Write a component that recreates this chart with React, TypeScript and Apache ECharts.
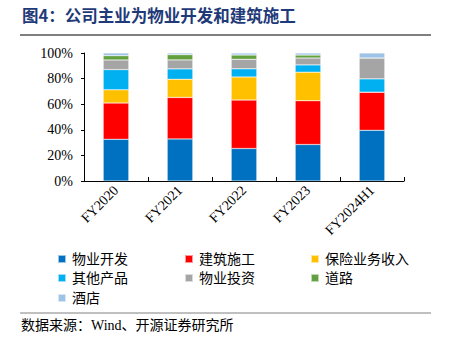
import React, { useEffect, useRef } from "react";
import * as echarts from "echarts";

const categories = ["FY2020", "FY2021", "FY2022", "FY2023", "FY2024H1"];
const seriesNames = ["物业开发", "建筑施工", "保险业务收入", "其他产品", "物业投资", "道路", "酒店"];
const propertyDev = [32.6, 32.9, 25.4, 28.5, 39.6];
const construction = [28.3, 32.4, 37.8, 34.2, 29.8];
const insurance = [10.3, 14.2, 18.1, 22.3, 0];
const otherProducts = [15.8, 8.1, 6.3, 5.7, 10.4];
const propertyInvest = [7.6, 7.0, 7.5, 5.4, 16.3];
const roads = [3.3, 4.1, 3.3, 2.3, 0];
const hotels = [2.1, 1.3, 1.6, 1.6, 3.9];
const yTicks = [0, 20, 40, 60, 80, 100];

const allData = [propertyDev, construction, insurance, otherProducts, propertyInvest, roads, hotels];
const colors = ["#0070C0", "#FF0000", "#FFC000", "#00B0F0", "#A5A5A5", "#63A03F", "#9DC3E6"];

const legendPos = [
  [57, 252], [184, 252], [310, 252],
  [57, 271], [184, 271], [310, 271],
  [57, 291],
];

export default function App() {
  const ref = useRef<HTMLDivElement>(null);
  useEffect(() => {
    const chart = echarts.init(ref.current!, undefined, { renderer: "svg" });
    const serif = "'Liberation Serif', 'Times New Roman', serif";
    const cjk = "'Liberation Serif', 'Noto Sans CJK SC', serif";
    chart.setOption({
      animation: false,
      backgroundColor: "#ffffff",
      grid: { left: 84, right: 45, top: 53, bottom: 170, containLabel: false },
      xAxis: {
        type: "category",
        data: categories,
        axisLine: { lineStyle: { color: "#000", width: 1 } },
        axisTick: { show: true, inside: true, length: 4, lineStyle: { color: "#000" } },
        axisLabel: { rotate: 45, fontFamily: serif, fontSize: 14, color: "#000", margin: 7 },
      },
      yAxis: {
        type: "value",
        min: yTicks[0],
        max: yTicks[yTicks.length - 1],
        interval: 20,
        splitLine: { show: false },
        axisLine: { show: true, lineStyle: { color: "#000", width: 1 } },
        axisTick: { show: true, length: 3, lineStyle: { color: "#000" } },
        axisLabel: { formatter: "{value}%", fontFamily: serif, fontSize: 14, color: "#000", margin: 11 },
      },
      legend: seriesNames.map((n, i) => ({
        data: [n],
        left: legendPos[i][0],
        top: legendPos[i][1],
        icon: "rect",
        itemWidth: 8,
        itemHeight: 8,
        itemGap: 0,
        padding: 0,
        selectedMode: false,
        textStyle: { fontFamily: cjk, fontSize: 14, color: "#000", padding: [0, 0, 0, 1] },
      })),
      graphic: [
        {
          type: "text",
          left: 22,
          top: 7,
          style: { text: "图4：公司主业为物业开发和建筑施工", fontFamily: "'Noto Sans CJK SC', sans-serif", fontWeight: "bold", fontSize: 16.5, fill: "#1F3A78" },
        },
        { type: "line", shape: { x1: 20, y1: 35, x2: 431, y2: 35 }, style: { stroke: "#000", lineWidth: 1 } },
        { type: "line", shape: { x1: 20, y1: 313, x2: 431, y2: 313 }, style: { stroke: "#808080", lineWidth: 1 } },
        {
          type: "text",
          left: 21,
          top: 318,
          style: { text: "数据来源：Wind、开源证券研究所", fontFamily: cjk, fontSize: 14, fill: "#000" },
        },
      ],
      series: seriesNames.map((n, i) => ({
        name: n,
        type: "bar",
        stack: "total",
        barWidth: "40%",
        data: allData[i],
        itemStyle: { color: colors[i], borderColor: "rgba(255,255,255,0.6)", borderWidth: 0.5 },
      })),
    });
    return () => chart.dispose();
  }, []);
  return <div ref={ref} style={{ width: 449, height: 351, position: "absolute", left: 0, top: 0 }} />;
}
